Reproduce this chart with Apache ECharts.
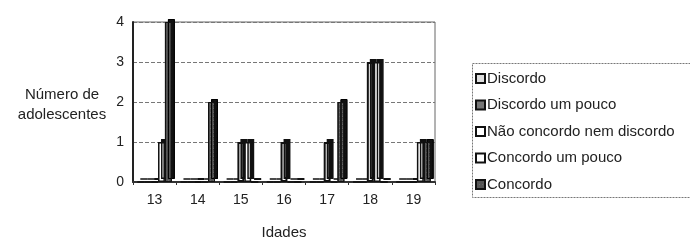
<!DOCTYPE html>
<html>
<head>
<meta charset="utf-8">
<script src="https://cdn.jsdelivr.net/npm/echarts@6/dist/echarts.min.js"></script>
<style>
  html, body { margin: 0; padding: 0; background: #fff; }
  #chart { width: 690px; height: 240px; }
</style>
</head>
<body>
<div id="chart"></div>
<script>
// idades (eixo x)
const idades = ['13', '14', '15', '16', '17', '18', '19'];
const yTicks = [0, 1, 2, 3, 4];

// respostas por idade
const discordo = [0, 0, 0, 0, 0, 0, 0];
const discordoUmPouco = [0, 0, 0, 0, 0, 0, 0];
const naoConcordo = [0, 0, 1, 1, 1, 3, 0];
const concordoUmPouco = [1, 0, 1, 0, 0, 3, 1];
const concordo = [4, 2, 0, 0, 2, 0, 1];

const FONT = 'Liberation Sans, Arial, sans-serif';
const chart = echarts.init(document.getElementById('chart'), null, { renderer: 'canvas' });

// sombra deslocada para imitar a profundidade 3D do Excel
function barStyle(fill, border, bw) {
    return {
        color: fill,
        borderColor: border,
        borderWidth: bw,
        shadowColor: '#111',
        shadowBlur: 0,
        shadowOffsetX: 3,
        shadowOffsetY: -3
    };
}

function serie(name, data, style) {
    return {
        name: name,
        type: 'bar',
        data: data,
        barGap: '0%',
        barCategoryGap: '20%',
        itemStyle: style,
        emphasis: { disabled: true }
    };
}

const option = {
    animation: false,
    textStyle: { fontFamily: FONT },
    grid: {
        left: 133,
        right: 255,
        top: 22,
        bottom: 58,
        outerBoundsMode: 'none',
        containLabel: false,
        show: true,
        borderColor: '#666',
        borderWidth: 1
    },
    legend: {
        orient: 'vertical',
        left: 475,
        top: 71,
        padding: 0,
        itemWidth: 9,
        itemHeight: 9,
        itemGap: 11.5,
        icon: 'rect',
        textStyle: { fontSize: 15, color: '#222', padding: [0, 0, 0, -3] },
        data: ['Discordo', 'Discordo um pouco', 'Não concordo nem discordo', 'Concordo um pouco', 'Concordo']
    },
    graphic: [
        {
            type: 'rect',
            shape: { x: 472.5, y: 63.5, width: 220, height: 134 },
            style: { fill: 'none', stroke: '#777', lineWidth: 1, lineDash: [2, 1] },
            silent: true
        },
        {
            type: 'text',
            x: 62,
            y: 85,
            style: {
                text: 'Número de\nadolescentes',
                font: '15px ' + FONT,
                fill: '#222',
                align: 'center',
                lineHeight: 20
            },
            silent: true
        }
    ],
    xAxis: {
        type: 'category',
        data: idades,
        name: 'Idades',
        nameLocation: 'middle',
        nameGap: 43,
        nameTextStyle: { fontSize: 15, color: '#222' },
        axisLine: { lineStyle: { color: '#333', width: 2 } },
        axisTick: { show: true, length: 3, lineStyle: { color: '#333' } },
        axisLabel: { fontSize: 14, color: '#222', margin: 11 }
    },
    yAxis: {
        type: 'value',
        min: yTicks[0],
        max: yTicks[yTicks.length - 1],
        interval: 1,
        axisLine: { show: true, lineStyle: { color: '#222', width: 2 } },
        axisTick: { show: false },
        axisLabel: { fontSize: 14, color: '#222', margin: 9 },
        splitLine: { lineStyle: { color: '#777', type: [4, 2] } }
    },
    series: [
        serie('Discordo', discordo, barStyle('#ddd', '#111', 1.5)),
        serie('Discordo um pouco', discordoUmPouco, barStyle('#777', '#111', 1.5)),
        serie('Não concordo nem discordo', naoConcordo, barStyle('#fff', '#111', 2)),
        serie('Concordo um pouco', concordoUmPouco, barStyle('#fff', '#111', 1.5)),
        serie('Concordo', concordo, Object.assign(barStyle('#555', '#111', 1), {
            decal: { symbol: 'rect', symbolSize: 0.5, color: '#aaa', dashArrayX: [1, 2], dashArrayY: [1, 3], rotation: 0 }
        }))
    ]
};

chart.setOption(option);
</script>
</body>
</html>
